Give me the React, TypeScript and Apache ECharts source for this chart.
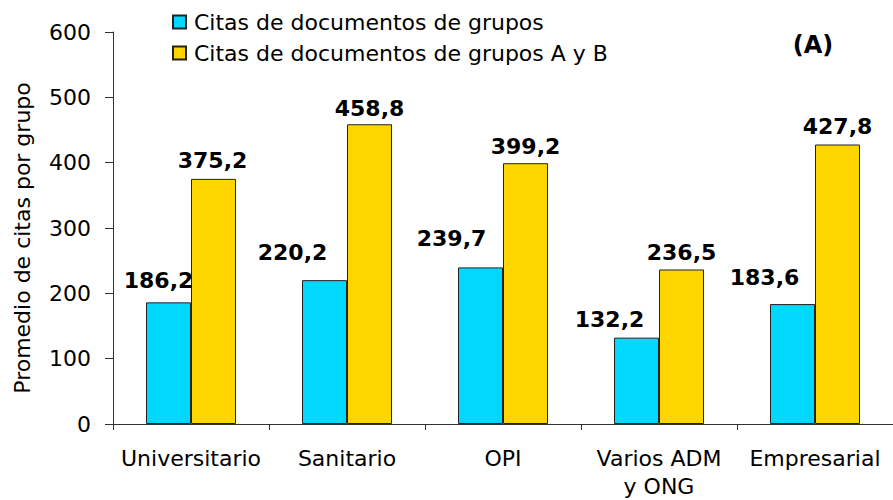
import React, { useEffect, useRef } from "react";
import * as echarts from "echarts";

const categories = ["Universitario", "Sanitario", "OPI", "Varios ADM\ny ONG", "Empresarial"];
const seriesNames = ["Citas de documentos de grupos", "Citas de documentos de grupos A y B"];
const citasGrupos = [186.2, 220.2, 239.7, 132.2, 183.6];
const citasGruposAB = [375.2, 458.8, 399.2, 236.5, 427.8];
const yMin = 0;
const yMax = 600;
const yInterval = 100;
const panelLabel = "(A)";

// label placement tweaks (layout only)
const cyanLabelOffsets = [[-10, -5], [-32, -11], [-29, -12], [-27, -1], [-28, -10]];
const yellowLabelOffsets = [[-1, -1], [0, 1], [0, 0], [0, 0], [0, -1]];

const FONT = "'DejaVu Sans', Verdana, sans-serif";
const fmt = (v: number) => v.toFixed(1).replace(".", ",");

export default function App() {
  const ref = useRef<HTMLDivElement>(null);
  useEffect(() => {
    if (!ref.current) return;
    const chart = echarts.init(ref.current, undefined, { renderer: "svg" });
    const labelBase = {
      show: true,
      position: "top",
      distance: 6,
      fontFamily: FONT,
      fontSize: 22,
      fontWeight: "bold",
      color: "#000",
      formatter: (p: any) => fmt(p.value),
    };
    chart.setOption({
      animation: false,
      textStyle: { fontFamily: FONT },
      grid: { left: 113, top: 32, bottom: 73, width: 787, containLabel: false },
      legend: {
        orient: "vertical",
        left: 172,
        top: 8,
        padding: 0,
        itemWidth: 13,
        itemHeight: 13,
        itemGap: 3,
        icon: "rect",
        textStyle: { fontFamily: FONT, fontSize: 22, color: "#000", lineHeight: 22, padding: [6, 0, 0, 3] },
        data: seriesNames,
      },
      xAxis: {
        type: "category",
        data: categories,
        axisLine: { lineStyle: { color: "#333", width: 1 } },
        axisTick: { show: true, length: 6, lineStyle: { color: "#333" } },
        axisLabel: { interval: 0, fontFamily: FONT, fontSize: 22, color: "#000", margin: 20, lineHeight: 28 },
      },
      yAxis: {
        type: "value",
        min: yMin,
        max: yMax,
        interval: yInterval,
        name: "Promedio de citas por grupo",
        nameLocation: "middle",
        nameGap: 80,
        nameTextStyle: { fontFamily: FONT, fontSize: 22, color: "#000", padding: [0, 20, 0, 0] },
        splitLine: { show: false },
        axisLine: { show: true, lineStyle: { color: "#333", width: 1 } },
        axisTick: { show: true, length: 8, lineStyle: { color: "#333" } },
        axisLabel: { fontFamily: FONT, fontSize: 22, color: "#000", margin: 22 },
      },
      series: [
        {
          name: seriesNames[0],
          type: "bar",
          barWidth: 45,
          barGap: "0%",
          itemStyle: { color: "#00D8FF", borderColor: "#222", borderWidth: 1 },
          label: labelBase,
          data: citasGrupos.map((v, i) => ({ value: v, label: { offset: cyanLabelOffsets[i] } })),
        },
        {
          name: seriesNames[1],
          type: "bar",
          barWidth: 45,
          barGap: "0%",
          itemStyle: { color: "#FFD500", borderColor: "#222", borderWidth: 1 },
          label: labelBase,
          data: citasGruposAB.map((v, i) => ({ value: v, label: { offset: yellowLabelOffsets[i] } })),
        },
      ],
      graphic: [
        {
          type: "text",
          x: 813,
          y: 45,
          style: {
            text: panelLabel,
            fontFamily: FONT,
            fontSize: 24,
            fontWeight: "bold",
            fill: "#000",
            align: "center",
            verticalAlign: "middle",
          },
        },
      ],
    });
    return () => chart.dispose();
  }, []);
  return <div ref={ref} style={{ position: "absolute", left: 0, top: 0, width: 893, height: 500 }} />;
}
